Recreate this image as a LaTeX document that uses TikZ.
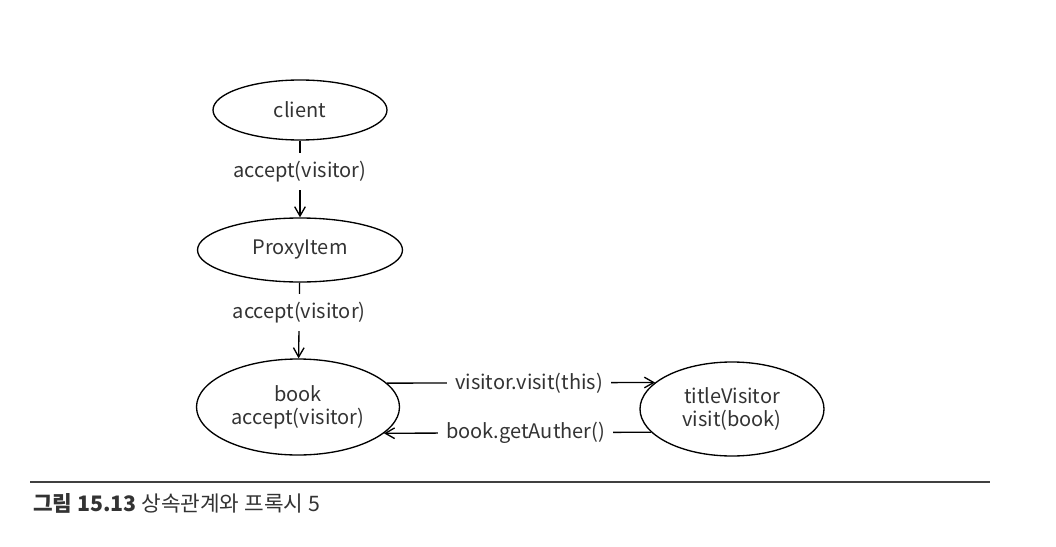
\documentclass[tikz,border=0pt]{standalone}
\usepackage{fontspec}
\setmainfont{Noto Sans CJK KR}
\usetikzlibrary{arrows.meta,shapes.geometric}

\begin{document}
\begin{tikzpicture}[x=0.75pt,y=-0.75pt,->,>={Straight Barb[length=7pt,width=8pt]},line width=1pt,
  every node/.style={font=\fontsize{15}{17.5}\selectfont,text=black!80},
  obj/.style={draw,ellipse,inner sep=0pt,align=center,text=black!80},
  lbl/.style={fill=white,inner sep=6pt}]
  \useasboundingbox (0,0) rectangle (1056,546);
  \node[obj,minimum width=130.5pt,minimum height=45pt] (client) at (300,110) {client};
  \node[obj,minimum width=153.75pt,minimum height=48pt] (proxy) at (300,250) {ProxyItem};
  \node[obj,minimum width=152.25pt,minimum height=72pt] (book) at (298,407) {book\\accept(visitor)};
  \node[obj,minimum width=138pt,minimum height=70.5pt] (tv) at (732,409) {titleVisitor\\visit(book)};
  \path (client) edge node[lbl,pos=0.4] {accept(visitor)} (proxy);
  \path (proxy) edge node[lbl,pos=0.4] {accept(visitor)} (book);
  \path (book.15.3) edge node[lbl,pos=0.53] {visitor.visit(this)} (tv.161.3);
  \path (tv.196) edge node[lbl,pos=0.47] {book.getAuther()} (book.343.9);
  % rule and caption
  \draw[-,line width=1pt,black!75] (30,482) -- (990,482);
  \node[anchor=west,font=\fontsize{16}{18}\selectfont] (cap) at (28,503) {\textbf{그림 15.13} 상속관계와 프록시 5};
\end{tikzpicture}
\end{document}
